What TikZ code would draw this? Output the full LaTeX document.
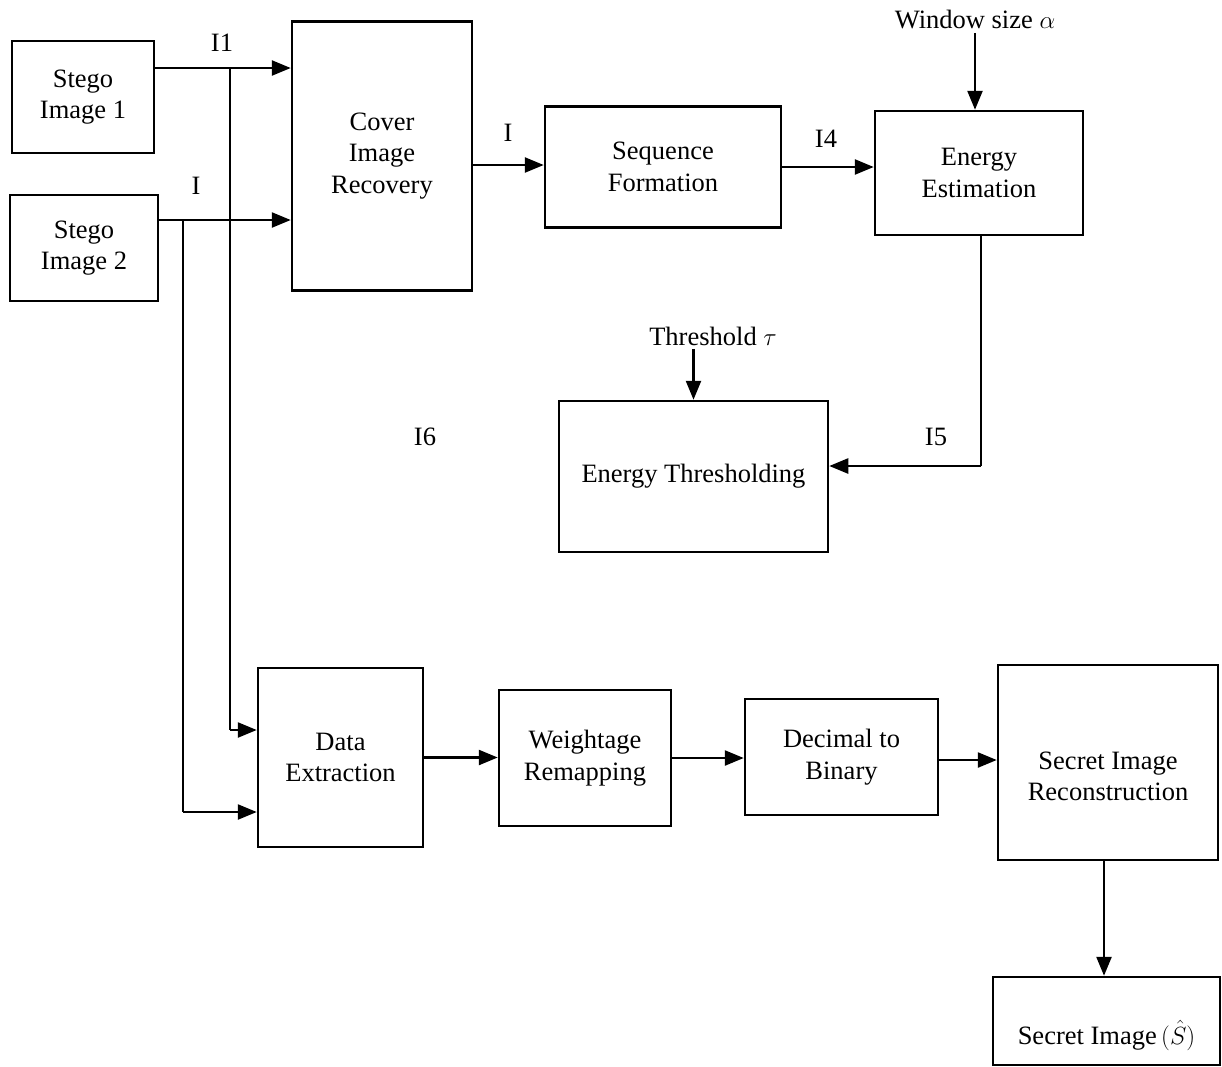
\documentclass[tikz,border=0pt]{standalone}
\usepackage{fontspec}
\setmainfont{Liberation Serif}
\usetikzlibrary{arrows.meta,positioning}

\newcommand{\lowtext}[1]{\raisebox{-16pt}[\height][\depth]{\begin{tabular}{@{}c@{}}#1\end{tabular}}}

\begin{document}
\begin{tikzpicture}[
  x=1pt, y=-1pt,
  font=\fontsize{26.5}{31.5}\selectfont,
  box/.style={draw, line width=2.5pt, align=center, inner sep=0pt},
  arrow/.style={-{Triangle[length=19pt,width=15pt]}, line width=2.5pt},
  wire/.style={line width=1.3pt},
  lbl/.style={inner sep=0pt}
]
\useasboundingbox (0,0) rectangle (1222,1066);

% top row
\node[box, minimum width=142, minimum height=112] (stego1) at (83,97) {Stego\\Image 1};
\node[box, minimum width=148, minimum height=106] (stego2) at (84,248) {Stego\\Image 2};
\node[box, minimum width=180, minimum height=269] (cover) at (382,156) {Cover\\Image\\Recovery};
\node[box, minimum width=236, minimum height=121] (seq) at (663,167) {Sequence\\Formation};
\node[box, minimum width=208, minimum height=124] (energy) at (979,173) {Energy\\Estimation};
\node[box, minimum width=269, minimum height=151] (thresh) at (693.5,476.5) {Energy Thresholding};

% bottom row
\node[box, minimum width=165, minimum height=179] (dext) at (340.5,757.5) {Data\\Extraction};
\node[box, minimum width=172, minimum height=136] (weight) at (585,758) {Weightage\\Remapping};
\node[box, minimum width=193, minimum height=116] (dec2bin) at (841.5,757) {Decimal to\\Binary};
\node[box, minimum width=220, minimum height=195] (recon) at (1108,762.5) {\lowtext{Secret Image\\Reconstruction}};
\node[box, minimum width=227, minimum height=88] (secret) at (1106.5,1021) {\lowtext{Secret Image\,$(\hat{S})$}};

% inputs
\node (win) at (975,20) {Window size $\alpha$};
\node (thr) at (713,336) {Threshold $\tau$};

% labels
\node[lbl] (l1) at (222,43) {I1};
\node[lbl] (l2) at (196,186) {I};
\node[lbl] (l3) at (508,133) {I};
\node[lbl] (l4) at (826,139) {I4};
\node[lbl] (l5) at (936,437) {I5};
\node[lbl] (l6) at (425,437) {I6};

% branch points
\coordinate (b1) at (230,68);
\coordinate (c1) at (230,730);
\coordinate (b2) at (183,220);
\coordinate (c2) at (183,812);
\coordinate (e5) at (981,466);

\draw[arrow] (stego1.east |- b1) -- (cover.west |- b1);
\draw[arrow] (stego2.east |- b2) -- (cover.west |- b2);
\draw[wire] (b1) -- (c1);
\draw[arrow] (c1) -- (dext.west |- c1);
\draw[wire] (b2) -- (c2);
\draw[arrow] (c2) -- (dext.west |- c2);

\draw[arrow] (cover.east |- 0,165) -- (seq.west |- 0,165);
\draw[arrow] (seq.east) -- (energy.west |- seq.east);
\draw[arrow] (win.south) -- (win.south |- energy.north);
\draw[wire] (energy.south -| e5) -- (e5);
\draw[arrow] (e5) -- (thresh.east |- e5);
\draw[arrow] (thr.south -| thresh.north) -- (thresh.north);

\draw[arrow] (dext.east) -- (weight.west |- dext.east);
\draw[arrow] (weight.east) -- (dec2bin.west |- weight.east);
\draw[arrow] (dec2bin.east |- 0,760) -- (recon.west |- 0,760);
\draw[arrow] (recon.south -| 1104,0) -- (secret.north -| 1104,0);
\end{tikzpicture}
\end{document}
